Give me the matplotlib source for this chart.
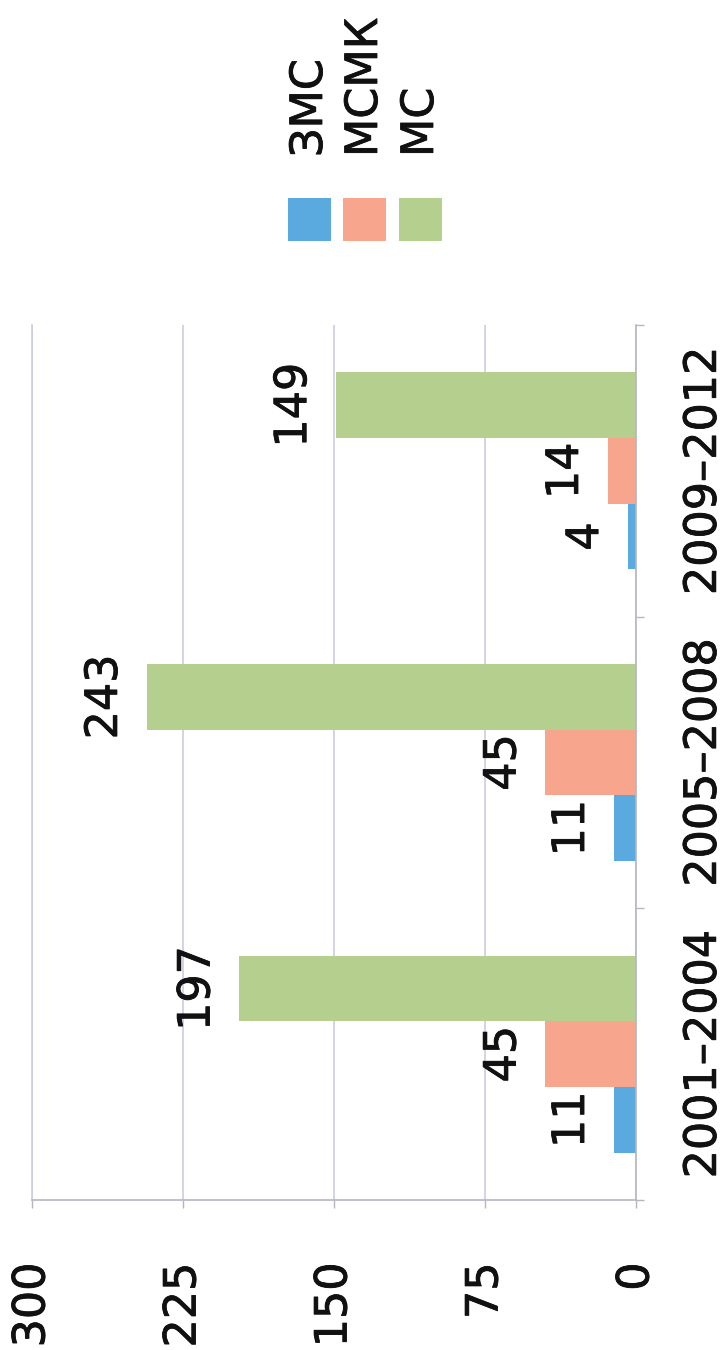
import matplotlib
matplotlib.use("Agg")
import matplotlib.pyplot as plt
import matplotlib.patheffects as pe
from matplotlib.patches import Rectangle
import numpy as np

# ---- data ----
categories = ["2001–2004", "2005–2008", "2009–2012"]
series_names = ["ЗМС", "МСМК", "МС"]
zms = [11, 11, 4]
msmk = [45, 45, 14]
ms = [197, 243, 149]
value_ticks = [0, 75, 150, 225, 300]

colors = ["#5AAAE0", "#F7A68D", "#B5CF8E"]
text_color = "#111111"
grid_color = "#C9CDE0"
axis_color = "#B4B6C0"
FS = 32
heavy = [pe.withStroke(linewidth=0.6, foreground=text_color)]

plt.rcParams['font.family'] = ['DejaVu Sans']

W, H = 728, 1350
fig = plt.figure(figsize=(W / 100, H / 100), dpi=100)
fig.patch.set_facecolor("white")

# chart is drawn rotated 90° (value axis horizontal, increasing to the left)
ax = fig.add_axes([32 / W, 1 - 1200 / H, (636 - 32) / W, (1200 - 325) / H])

y = np.arange(len(categories))
bh = 0.225
all_series = [zms, msmk, ms]
for i, (vals, c) in enumerate(zip(all_series, colors)):
    pos = y + (i - 1) * bh
    ax.barh(pos, vals, height=bh, color=c, edgecolor="none", zorder=2)
    for p, v in zip(pos, vals):
        ax.annotate(str(v), (v, p), xytext=(-15, 0), textcoords="offset points",
                    rotation=90, ha="right", va="center", fontsize=FS,
                    color=text_color, zorder=3, path_effects=heavy)

ax.set_xlim(value_ticks[-1], value_ticks[0])
ax.set_ylim(-0.5, len(categories) - 0.5)

# value axis (bottom)
ax.set_xticks(value_ticks)
ax.set_xticklabels([str(v) for v in value_ticks], rotation=90, fontsize=FS,
                   color=text_color)
ax.tick_params(axis="x", length=6, width=1, color=axis_color, pad=39,
               direction="out")
ax.xaxis.grid(True, color=grid_color, linewidth=1.2, zorder=0)
ax.set_axisbelow(True)

# category axis (right)
ax.yaxis.tick_right()
ax.set_yticks(y)
ax.set_yticklabels(categories, rotation=90, fontsize=FS, color=text_color,
                   va="center")
ax.tick_params(axis="y", which="major", length=0, pad=33)
ax.set_yticks(np.arange(-0.5, len(categories), 1.0), minor=True)
ax.tick_params(axis="y", which="minor", length=6, width=1, color=axis_color,
               right=True, left=False, direction="out")

for lbl in ax.get_xticklabels() + ax.get_yticklabels():
    lbl.set_path_effects(heavy)

ax.spines["top"].set_visible(False)
ax.spines["left"].set_color(grid_color)
ax.spines["left"].set_linewidth(1.2)
ax.spines["bottom"].set_color(axis_color)
ax.spines["bottom"].set_linewidth(1.2)
ax.spines["right"].set_color(axis_color)
ax.spines["right"].set_linewidth(1.2)

# legend (rotated, top of figure)
sq_w, sq_h = 43, 43
sq_x = [288, 343, 399]
sq_top = 198
for name, c, x0 in zip(series_names, colors, sq_x):
    fig.patches.append(Rectangle((x0 / W, 1 - (sq_top + sq_h) / H), sq_w / W, sq_h / H,
                                 transform=fig.transFigure, facecolor=c,
                                 edgecolor="none"))
    fig.text((x0 + sq_w / 2) / W, 1 - 157 / H, name, rotation=90, ha="center",
             va="bottom", fontsize=FS, color=text_color, path_effects=heavy)

fig.savefig("out.png", dpi=100, facecolor="white")
